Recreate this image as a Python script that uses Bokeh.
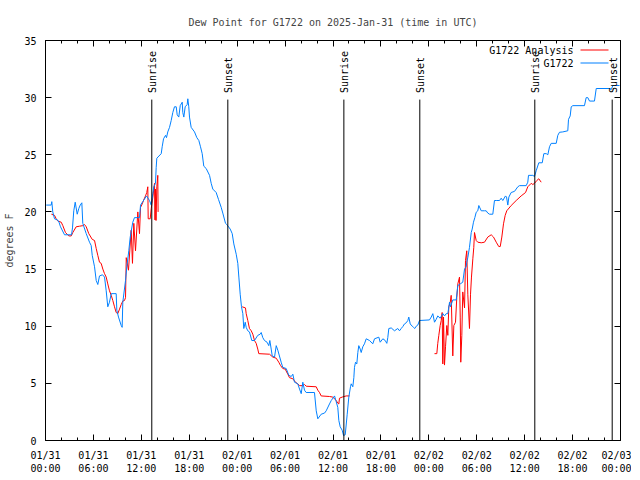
import math
from bokeh.plotting import figure
from bokeh.models import LinearAxis, FixedTicker, Range1d, Label, BoxAnnotation
from bokeh.core.properties import value
from bokeh.embed import file_html
from bokeh.resources import INLINE

NAN = float("nan")
FONT = "DejaVu Sans Mono"

TITLE = "Dew Point for G1722 on 2025-Jan-31 (time in UTC)"
Y_LABEL = "degrees F"
SERIES_NAMES = ["G1722 Analysis", "G1722"]

# x axis: hours since 2025-01-31 00:00 UTC
x_tick_hours = [0, 6, 12, 18, 24, 30, 36, 42, 48, 54, 60, 66, 72]
x_tick_labels = ["01/31\n00:00", "01/31\n06:00", "01/31\n12:00", "01/31\n18:00",
                 "02/01\n00:00", "02/01\n06:00", "02/01\n12:00", "02/01\n18:00",
                 "02/02\n00:00", "02/02\n06:00", "02/02\n12:00", "02/02\n18:00",
                 "02/03\n00:00"]
x_minor_hours = list(range(0, 73, 2))
y_ticks = [0, 5, 10, 15, 20, 25, 30, 35]

# observed dew point (G1722)
obs_hours = [0.09, 0.71, 0.79, 0.91, 1.13, 1.50, 1.69, 1.88, 2.38, 3.26, 3.38, 3.54, 3.72,
             3.97, 4.17, 4.35, 4.55, 4.67, 5.10, 5.51, 5.72, 5.85, 6.14, 6.35, 6.55, 6.76,
             7.14, 7.39, 7.60, 7.80, 8.01, 8.23, 8.85, 8.93, 9.14, 9.48, 9.60, 9.68, 10.02,
             10.18, 10.43, 10.61, 10.73, 10.93, 11.14, 11.77, 11.90, 12.18, 12.65, 13.02,
             13.24, 13.44, 13.56, 13.77, 13.86, 13.94, 14.49, 14.61, 14.78, 15.03, 15.15,
             15.31, 15.53, 15.74, 15.94, 16.15, 16.37, 16.49, 16.69, 16.87, 17.12, 17.19,
             17.32, 17.49, 17.74, 17.82, 17.94, 18.03, 18.24, 18.66, 18.95, 19.20, 19.41,
             19.62, 19.82, 20.12, 20.54, 20.75, 20.95, 21.37, 21.66, 22.00, 22.20, 22.54,
             22.70, 23.13, 23.38, 23.58, 23.88, 24.08, 24.21, 24.38, 24.54, 24.71, 24.83,
             25.01, 25.13, 25.33, 25.54, 25.83, 26.17, 26.58, 26.88, 27.01, 27.21, 27.42,
             27.74, 27.96, 28.09, 28.26, 28.39, 28.68, 28.89, 29.09, 29.51, 29.71, 30.14,
             30.47, 30.77, 30.97, 31.18, 31.59, 31.81, 32.02, 32.22, 32.43, 32.64, 33.68,
             33.90, 34.10, 34.52, 34.94, 35.15, 35.56, 35.78, 36.19, 36.40, 36.60, 36.73,
             36.90, 37.15, 37.32, 37.53, 37.78, 37.98, 38.19, 38.28, 38.48, 38.61, 38.69,
             38.82, 38.98, 39.11, 39.23, 39.41, 39.53, 39.73, 39.94, 40.16, 40.57, 40.98,
             41.20, 41.74, 41.91, 42.24, 42.54, 42.74, 42.86, 42.99, 43.29, 43.70, 44.11,
             44.33, 44.54, 44.74, 44.95, 45.17, 45.37, 45.49, 45.67, 45.92, 46.08, 46.24,
             46.42, 46.62, 46.83, 48.08, 48.30, 48.50, 48.71, 48.92, 49.12, 49.42, 49.75,
             49.96, 50.18, 50.38, 50.59, 50.71, 51.00, 51.43, 51.63, 51.93, 52.25, 52.47,
             52.68, 52.75, 52.88, 53.09, 53.31, 53.43, 53.59, 53.76, 53.93, 54.13, 54.26,
             54.56, 54.97, 55.18, 55.38, 55.60, 56.01, 56.22, 56.44, 56.85, 57.06, 57.26,
             57.60, 57.73, 57.89, 58.02, 58.31, 58.73, 59.14, 59.35, 60.19, 60.39, 60.48,
             61.02, 61.23, 61.44, 61.77, 62.20, 62.40, 62.70, 62.90, 63.11, 63.32, 63.95,
             64.15, 64.36, 64.77, 65.40, 65.49, 65.70, 65.83, 66.03, 67.49, 67.70, 67.91,
             68.12, 68.74, 68.96, 70.62, 70.84, 71.04, 71.88]
obs_dewpt = [20.6, 20.6, 20.9, 20.0, 19.4, 19.3, 19.1, 18.7, 18.0, 18.0, 18.6, 20.1, 20.85,
             19.8, 20.3, 20.6, 20.8, 19.0, 18.1, 17.35, 17.06, 16.2, 15.2, 14.0, 13.65, 14.4,
             14.5, 14.3, 13.1, 11.7, 12.1, 12.85, 12.85, 11.4, 10.8, 10.06, 9.9, 12.1, 14.0,
             15.2, 16.6, 17.8, 18.3, 19.1, 19.5, 19.5, 20.6, 20.9, 21.4, 21.0,
             20.6, 21.6, 22.2, 22.5, 23.9, 24.7, 25.1, 25.7, 26.4, 26.7, 26.5,
             27.0, 27.4, 28.0, 28.7, 29.2, 29.2, 28.5, 28.3, 29.3, 29.6, 28.7,
             28.3, 29.2, 29.4, 29.9, 29.2, 28.3, 27.4, 27.0, 26.5, 26.25, 25.7,
             25.1, 24.0, 23.8, 23.2, 22.5, 22.0, 21.7, 21.1, 20.4, 19.9, 19.0,
             18.9, 18.5, 18.1, 17.2, 16.3, 15.5, 14.3, 12.8, 11.7, 11.1, 9.8,
             10.35, 9.9, 9.6, 9.5, 8.75, 8.75, 9.2, 9.3, 9.45, 9.0, 8.75,
             8.6, 8.3, 8.75, 8.0, 7.4, 7.3, 8.3, 7.9, 6.85, 6.4, 6.3,
             5.7, 5.6, 5.8, 5.1, 4.96, 4.5, 4.1, 5.1, 4.4, 4.2, 4.2,
             2.6, 1.9, 2.3, 2.4, 2.6, 3.2, 3.5, 3.9, 3.4, 2.9, 1.75,
             1.2, 0.9, 0.44, 0.5, 2.3, 3.8, 4.7, 4.96, 4.7, 5.5, 6.4,
             6.85, 6.7, 7.7, 8.3, 8.0, 7.7, 8.2, 8.46, 8.9, 8.75, 8.46,
             8.9, 9.04, 8.6, 8.9, 8.75, 8.5, 9.0, 9.8, 9.85, 9.6, 9.8,
             9.6, 9.8, 9.97, 10.2, 10.3, 10.5, 10.8, 10.2, 10.0, 9.9, 9.8,
             10.0, 10.1, 10.5, 10.55, 10.8, 11.1, 10.35, 10.6, 10.9, 10.7, 11.1,
             10.9, 11.1, 11.1, 12.1, 11.7, 12.3, 12.3, 13.56, 13.7, 13.85, 15.0,
             15.2, 15.6, 16.0, 16.9, 18.2, 18.5, 19.1, 19.5, 19.97, 20.1, 20.56,
             20.1, 20.1, 20.1, 19.9, 19.8, 19.8, 21.0, 21.0, 21.0, 21.2, 21.0,
             21.4, 21.3, 20.6, 21.3, 21.7, 21.8, 22.2, 22.3, 22.3, 22.6, 23.2,
             23.2, 23.1, 23.6, 24.3, 24.3, 25.1, 25.1, 25.0, 25.7, 26.0, 26.0,
             26.7, 26.97, 27.0, 27.1, 28.1, 28.4, 29.2, 29.3, 29.3, 30.0, 30.0,
             29.7, 29.7, 30.8, 30.8, 30.7, 31.06, 31.06]

# analysis dew point (G1722 Analysis); NaN marks gaps
ana_hours = [0.74, 1.13, 1.34, 1.54, 1.97, 2.17, 2.50, 2.92, 3.22, 3.42, 3.84, 4.26, 4.67,
             4.88, 5.10, 5.42, 5.85, 6.14, 6.35, 6.55, 6.76, 6.97, 7.18, 7.39, 7.60, 7.80,
             8.01, 8.23, 8.43, 8.64, 8.85, 9.05, 9.27, 9.48, 9.68, 9.89, 10.02, 10.11, 10.39,
             10.73, 10.89, 11.06, 11.27, 11.56, 11.77, 11.90, 12.11, 12.27, 12.52, 12.68,
             12.81, 12.86, 13.11, 13.24, 13.44, 13.65, 13.71, 13.77, 13.84, 13.94, 14.06,
             14.10, 19.0,
             24.63, 25.04, 25.13, 25.33, 25.54, 25.76, 25.96, 26.17, 26.38, 26.58, 26.71,
             28.05, 28.46, 28.89, 29.21, 29.43, 29.71, 30.01, 30.34, 30.55, 30.97, 31.30,
             31.59, 31.81, 32.22, 32.43, 32.64, 33.90, 34.10, 34.31, 34.52, 35.56, 35.98,
             36.40, 36.60, 36.73, 36.81, 37.15, 37.65, 38.07, 43.0,
             48.71, 49.00, 49.12, 49.25, 49.42, 49.55, 49.67, 49.75, 49.84, 49.96, 50.09,
             50.25, 50.38, 50.50, 50.68, 50.80, 51.00, 51.13, 51.34, 51.50, 51.63, 51.84,
             51.93, 52.00, 52.13, 52.25, 52.47, 52.59, 52.75, 52.88, 53.09, 53.22, 53.34,
             53.51, 53.63, 53.72, 53.93, 54.13, 54.56, 54.97, 55.38, 55.81, 56.10, 56.44,
             56.76, 56.94, 57.14, 57.35, 57.56, 57.76, 58.31, 58.94, 59.56, 60.11, 60.39,
             60.82, 61.02, 61.23, 61.52, 61.77, 62.07]
ana_dewpt = [19.8, 19.7, 19.4, 19.2, 19.1, 18.8, 18.2, 17.9, 17.9, 18.2, 18.7, 18.75, 18.8,
             18.9, 18.7, 18.1, 17.6, 17.5, 16.8, 16.2, 15.6, 15.5, 15.0, 14.6, 14.3, 13.7,
             13.1, 12.7, 12.25, 11.7, 11.2, 11.1, 11.5, 11.9, 12.2, 12.25, 12.5, 16.0, 14.9,
             18.4, 15.5, 19.0, 16.6, 20.0, 18.1, 20.4, 20.7, 21.0, 21.4, 21.7,
             22.2, 19.4, 19.4, 20.3, 21.3, 22.5, 19.3, 22.0, 19.25, 22.2, 23.2,
             20.0, NAN,
             11.7, 11.6, 11.1, 10.5, 9.8, 9.6, 9.3, 8.75, 8.5, 8.0, 7.6,
             7.55, 7.3, 7.2, 6.85, 6.56, 6.3, 6.25, 5.8, 5.5, 5.4, 5.1,
             4.96, 4.8, 4.8, 4.9, 4.75, 4.7, 4.4, 4.2, 3.9, 3.85, 3.8,
             3.5, 3.27, 3.2, 3.7, 3.8, 3.9, 3.9, NAN,
             7.6, 7.6, 8.5, 9.2, 10.06, 10.5, 11.2, 6.7, 10.8, 6.6, 8.2,
             10.06, 9.2, 11.7, 12.1, 12.7, 7.4, 10.06, 10.35, 12.5, 13.7, 14.3,
             10.8, 6.85, 9.2, 13.0, 11.6, 15.75, 16.6, 12.8, 9.8, 12.8, 14.3,
             15.9, 16.9, 18.2, 17.5, 17.35, 17.3, 17.35, 17.8, 18.0, 17.8, 17.35,
             16.97, 16.97, 17.8, 18.96, 19.7, 20.1, 20.56, 21.0, 21.4, 21.7, 22.2,
             22.5, 22.4, 22.5, 22.75, 22.9, 22.6]

sunrise_hours = [13.31, 37.36, 61.27]
sunset_hours = [22.83, 46.87, 70.96]
sun_line_top = 29.83
sun_label_y = 30.4

RED = "#ff0000"
BLUE = "#0080ff"

p = figure(frame_width=575, frame_height=400, output_backend="svg", toolbar_location=None,
           x_range=Range1d(0, 72), y_range=Range1d(0, 35),
           min_border_left=45, min_border_right=11, min_border_top=40, min_border_bottom=30,
           background_fill_color="white", border_fill_color="white")

p.outline_line_color = "black"
p.outline_line_width = 1
p.outline_line_alpha = 1
p.xgrid.visible = False
p.ygrid.visible = False

p.title.text = TITLE
p.title.text_font = FONT
p.title.text_font_size = "10px"
p.title.text_font_style = "normal"
p.title.align = "center"
p.title.standoff = 26

def style_axis(ax, show_labels):
    ax.axis_line_color = None
    ax.major_tick_in = 6
    ax.major_tick_out = 0
    ax.minor_tick_in = 3
    ax.minor_tick_out = 0
    ax.major_tick_line_color = "black"
    ax.minor_tick_line_color = "black"
    ax.major_label_text_font = FONT
    ax.major_label_text_font_size = "10px" if show_labels else "1px"
    ax.major_label_text_color = "black" if show_labels else None
    ax.major_label_standoff = 9 if show_labels else 0

xt = FixedTicker(ticks=x_tick_hours, minor_ticks=x_minor_hours)
yt = FixedTicker(ticks=y_ticks, minor_ticks=[])

xb = p.xaxis[0]
xb.ticker = xt
xb.major_label_overrides = {h: lab for h, lab in zip(x_tick_hours, x_tick_labels)}
style_axis(xb, True)

yl = p.yaxis[0]
yl.ticker = yt
style_axis(yl, True)
yl.axis_label = Y_LABEL
yl.axis_label_text_font = FONT
yl.axis_label_text_font_size = "10px"
yl.axis_label_text_font_style = "normal"
yl.axis_label_standoff = 6

xtop = LinearAxis(ticker=FixedTicker(ticks=x_tick_hours, minor_ticks=x_minor_hours))
style_axis(xtop, False)
p.add_layout(xtop, "above")
yr = LinearAxis(ticker=FixedTicker(ticks=y_ticks, minor_ticks=[]))
style_axis(yr, False)
p.add_layout(yr, "right")

# data
p.line(ana_hours, ana_dewpt, line_color=RED, line_width=1)
p.line(obs_hours, obs_dewpt, line_color=BLUE, line_width=1)

# sunrise / sunset markers
sun_x = sunrise_hours + sunset_hours
sun_txt = ["Sunrise"] * len(sunrise_hours) + ["Sunset"] * len(sunset_hours)
p.segment(x0=sun_x, y0=[0] * len(sun_x), x1=sun_x, y1=[sun_line_top] * len(sun_x),
          line_color="black", line_width=1)
p.text(x=sun_x, y=[sun_label_y] * len(sun_x), text=sun_txt, angle=math.pi / 2,
       text_align="left", text_baseline="middle", x_offset=1,
       text_font=value(FONT), text_font_size="10px", text_color="black")

# legend (text left of line sample, as in the original)
for i, (name, col) in enumerate(zip(SERIES_NAMES, [RED, BLUE])):
    ypos = 390 - 13 * i
    p.add_layout(Label(x=528, y=ypos, x_units="screen", y_units="screen", text=name,
                       text_align="right", text_baseline="middle", text_font=FONT,
                       text_font_size="10px", text_color="black"))
    p.add_layout(BoxAnnotation(left=535, right=563, bottom=ypos, top=ypos + 1,
                               left_units="screen", right_units="screen",
                               bottom_units="screen", top_units="screen",
                               fill_color=col, fill_alpha=1, line_color=None))

open("out.html", "w").write(file_html(p, INLINE))
